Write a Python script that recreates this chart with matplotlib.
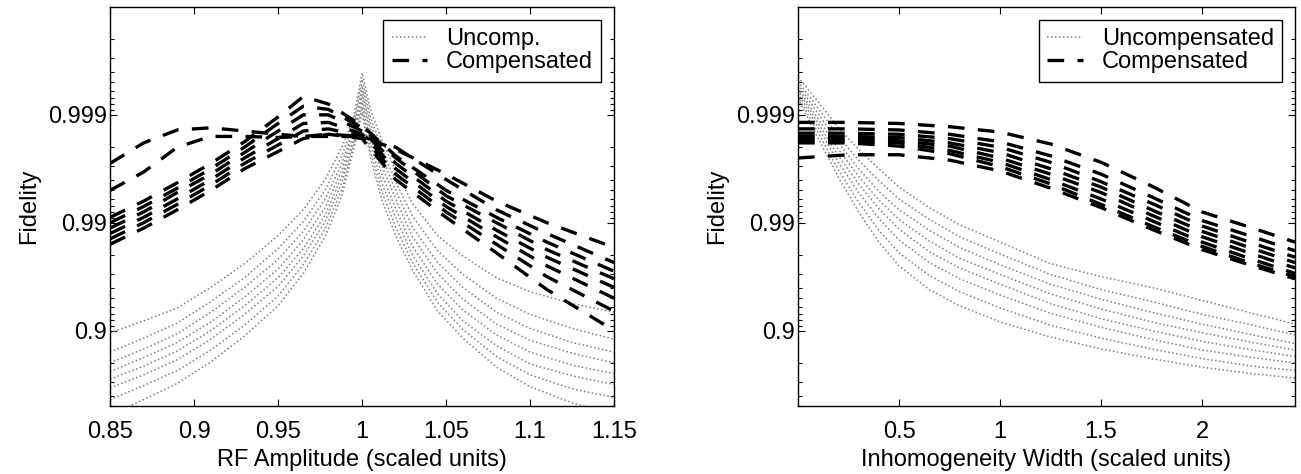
import numpy as np
import matplotlib.pyplot as plt
from matplotlib.ticker import LogLocator, NullFormatter

plt.rcParams['font.family'] = ['Liberation Sans', 'DejaVu Sans']
plt.rcParams['font.size'] = 17

# --- left panel: RF amplitude ---
rf_x_unc = [0.85, 0.87, 0.89, 0.91, 0.93, 0.95, 0.965, 0.978, 0.988, 0.995, 1.0,
            1.005, 1.012, 1.02, 1.03, 1.045, 1.06, 1.08, 1.1, 1.125, 1.15]
rf_unc = [
    [0.98, 1.09, 1.21, 1.40, 1.62, 1.88, 2.12, 2.40, 2.70, 2.98, 3.39, 3.05, 2.76, 2.48, 2.18, 1.88, 1.69, 1.49, 1.36, 1.25, 1.17],
    [0.80, 0.93, 1.07, 1.27, 1.49, 1.76, 2.01, 2.30, 2.62, 2.93, 3.33, 2.98, 2.68, 2.38, 2.06, 1.74, 1.52, 1.30, 1.15, 1.02, 0.92],
    [0.70, 0.83, 0.97, 1.17, 1.40, 1.66, 1.92, 2.22, 2.55, 2.88, 3.27, 2.92, 2.60, 2.30, 1.96, 1.63, 1.40, 1.17, 1.02, 0.89, 0.80],
    [0.62, 0.75, 0.89, 1.08, 1.31, 1.57, 1.84, 2.14, 2.49, 2.84, 3.22, 2.86, 2.52, 2.22, 1.87, 1.53, 1.29, 1.06, 0.91, 0.79, 0.70],
    [0.55, 0.67, 0.81, 1.00, 1.23, 1.49, 1.76, 2.07, 2.43, 2.79, 3.17, 2.80, 2.44, 2.13, 1.78, 1.43, 1.19, 0.96, 0.80, 0.68, 0.60],
    [0.47, 0.59, 0.73, 0.92, 1.15, 1.41, 1.69, 2.01, 2.37, 2.75, 3.12, 2.73, 2.36, 2.05, 1.70, 1.34, 1.09, 0.86, 0.69, 0.58, 0.50],
    [0.36, 0.49, 0.63, 0.82, 1.05, 1.32, 1.61, 1.94, 2.31, 2.71, 3.07, 2.66, 2.28, 1.96, 1.63, 1.26, 1.01, 0.76, 0.59, 0.46, 0.38],
    [0.22, 0.36, 0.51, 0.71, 0.95, 1.23, 1.53, 1.87, 2.25, 2.68, 3.02, 2.60, 2.20, 1.88, 1.56, 1.18, 0.93, 0.66, 0.48, 0.33, 0.22],
]
rf_x_comp = [0.85, 0.87, 0.89, 0.91, 0.93, 0.95, 0.965, 0.98, 1.0,
             1.02, 1.05, 1.08, 1.11, 1.15]
rf_comp = [
    [2.55, 2.74, 2.86, 2.88, 2.85, 2.82, 2.80, 2.80, 2.80, 2.68, 2.45, 2.20, 2.00, 1.77],
    [2.30, 2.47, 2.70, 2.80, 2.80, 2.79, 2.80, 2.82, 2.80, 2.70, 2.40, 2.12, 1.90, 1.63],
    [2.05, 2.20, 2.37, 2.55, 2.75, 2.98, 3.17, 3.10, 2.90, 2.62, 2.30, 2.05, 1.82, 1.55],
    [2.00, 2.15, 2.32, 2.50, 2.70, 2.92, 3.08, 3.05, 2.88, 2.60, 2.25, 2.00, 1.75, 1.48],
    [1.95, 2.10, 2.28, 2.45, 2.65, 2.85, 3.00, 3.00, 2.85, 2.55, 2.20, 1.93, 1.68, 1.40],
    [1.90, 2.05, 2.22, 2.40, 2.60, 2.78, 2.92, 2.93, 2.82, 2.50, 2.15, 1.87, 1.60, 1.30],
    [1.85, 2.00, 2.17, 2.35, 2.55, 2.72, 2.85, 2.87, 2.80, 2.45, 2.10, 1.80, 1.50, 1.18],
    [1.80, 1.95, 2.12, 2.30, 2.50, 2.66, 2.78, 2.82, 2.78, 2.40, 2.05, 1.72, 1.38, 1.00],
]

# --- right panel: inhomogeneity width ---
ih_x_unc = [0, 0.1, 0.2, 0.3, 0.4, 0.5, 0.65, 0.8, 1.0, 1.25, 1.5, 1.75, 2.0, 2.25, 2.46]
ih_unc = [
    [3.35, 3.12, 2.88, 2.68, 2.50, 2.33, 2.14, 1.98, 1.82, 1.62, 1.50, 1.40, 1.28, 1.16, 1.06],
    [3.31, 3.06, 2.80, 2.58, 2.39, 2.22, 2.03, 1.87, 1.71, 1.52, 1.38, 1.27, 1.15, 1.05, 0.96],
    [3.28, 3.01, 2.74, 2.50, 2.29, 2.12, 1.93, 1.77, 1.61, 1.43, 1.29, 1.17, 1.06, 0.96, 0.88],
    [3.25, 2.96, 2.68, 2.43, 2.21, 2.03, 1.83, 1.67, 1.52, 1.34, 1.20, 1.08, 0.98, 0.89, 0.82],
    [3.23, 2.92, 2.62, 2.36, 2.13, 1.94, 1.73, 1.58, 1.43, 1.25, 1.11, 1.00, 0.90, 0.82, 0.76],
    [3.20, 2.88, 2.56, 2.28, 2.04, 1.84, 1.63, 1.48, 1.33, 1.16, 1.03, 0.92, 0.82, 0.75, 0.70],
    [3.17, 2.83, 2.49, 2.19, 1.93, 1.72, 1.51, 1.36, 1.21, 1.05, 0.93, 0.83, 0.74, 0.67, 0.63],
    [3.15, 2.78, 2.42, 2.10, 1.82, 1.60, 1.38, 1.23, 1.08, 0.94, 0.83, 0.74, 0.66, 0.60, 0.56],
]
ih_x_comp = [0, 0.25, 0.5, 0.75, 1.0, 1.25, 1.5, 1.75, 2.0, 2.25, 2.46]
ih_comp = [
    [2.93, 2.93, 2.92, 2.89, 2.84, 2.73, 2.56, 2.34, 2.10, 1.95, 1.82],
    [2.87, 2.87, 2.86, 2.82, 2.75, 2.62, 2.45, 2.24, 2.02, 1.87, 1.74],
    [2.83, 2.83, 2.82, 2.78, 2.70, 2.56, 2.38, 2.18, 1.97, 1.81, 1.68],
    [2.80, 2.80, 2.79, 2.74, 2.65, 2.50, 2.33, 2.12, 1.92, 1.76, 1.63],
    [2.78, 2.78, 2.76, 2.71, 2.60, 2.45, 2.28, 2.07, 1.87, 1.71, 1.58],
    [2.76, 2.76, 2.74, 2.67, 2.56, 2.40, 2.22, 2.02, 1.82, 1.66, 1.53],
    [2.74, 2.74, 2.71, 2.64, 2.52, 2.36, 2.17, 1.97, 1.78, 1.62, 1.50],
    [2.60, 2.63, 2.63, 2.58, 2.48, 2.32, 2.14, 1.94, 1.75, 1.60, 1.48],
]


def infid(nines):
    return 10.0 ** (-np.asarray(nines))


def draw(ax, x_unc, unc, x_comp, comp, unc_label):
    for i, c in enumerate(unc):
        ax.plot(x_unc, infid(c), color='0.5', lw=1.1, ls=(0, (1, 1.6)),
                label=unc_label if i == 0 else None)
    for i, c in enumerate(comp):
        ax.plot(x_comp, infid(c), color='black', lw=2.4, ls=(0, (5, 4)),
                label='Compensated' if i == 0 else None)

    ax.set_yscale('log')
    ax.set_ylim(0.5, 1e-4)
    ax.set_yticks([1e-1, 1e-2, 1e-3])
    ax.set_yticklabels(['0.9', '0.99', '0.999'])
    ax.yaxis.set_minor_locator(LogLocator(base=10, subs=np.arange(2, 10) * 1.0, numticks=20))
    ax.yaxis.set_minor_formatter(NullFormatter())
    ax.tick_params(which='both', direction='in', top=True, right=True, width=0.8)
    ax.tick_params(which='major', length=5)
    ax.tick_params(axis='x', which='major', pad=11)
    ax.tick_params(axis='y', which='major', pad=2)
    ax.tick_params(which='minor', length=3)
    for s in ax.spines.values():
        s.set_linewidth(1.0)
    ax.set_ylabel('Fidelity', labelpad=6)

    leg = ax.legend(loc='upper right', fancybox=False, edgecolor='black', framealpha=1,
                    handlelength=1.5, labelspacing=0.05, borderpad=0.35,
                    borderaxespad=0.55, handletextpad=0.8)
    leg.get_frame().set_linewidth(1.0)


fig = plt.figure(figsize=(13.01, 4.74), dpi=100)
ax1 = fig.add_axes([0.0846, 0.1435, 0.3874, 0.8418])
ax2 = fig.add_axes([0.6134, 0.1435, 0.3820, 0.8418])

draw(ax1, rf_x_unc, rf_unc, rf_x_comp, rf_comp, 'Uncomp.')
ax1.set_xlim(0.85, 1.15)
ax1.set_xticks([0.85, 0.9, 0.95, 1.0, 1.05, 1.1, 1.15])
ax1.set_xticklabels(['0.85', '0.9', '0.95', '1', '1.05', '1.1', '1.15'])
ax1.set_xlabel('RF Amplitude (scaled units)', labelpad=4)

draw(ax2, ih_x_unc, ih_unc, ih_x_comp, ih_comp, 'Uncompensated')
ax2.set_xlim(0, 2.46)
ax2.set_xticks([0.5, 1, 1.5, 2])
ax2.set_xticklabels(['0.5', '1', '1.5', '2'])
ax2.set_xlabel('Inhomogeneity Width (scaled units)', labelpad=4)

fig.savefig('out.png', dpi=100)
